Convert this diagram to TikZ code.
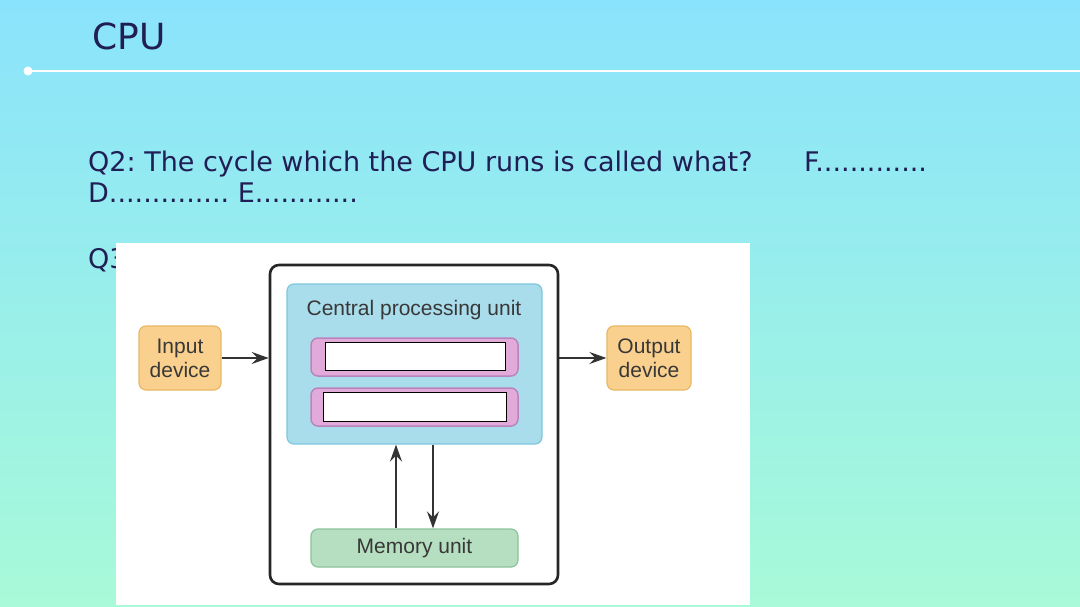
\documentclass[tikz,border=0pt]{standalone}
\usepackage{fontspec}
\setmainfont{DejaVu Sans}
\newfontfamily\figfont{Liberation Sans}
\usetikzlibrary{arrows.meta}
\definecolor{slidetop}{RGB}{138,227,252}
\definecolor{slidebot}{RGB}{168,250,216}
\definecolor{navy}{RGB}{32,30,84}
\definecolor{cpufill}{RGB}{170,221,236}
\definecolor{cpuline}{RGB}{125,198,220}
\definecolor{regfill}{RGB}{226,170,216}
\definecolor{regline}{RGB}{184,132,190}
\definecolor{iofill}{RGB}{249,208,142}
\definecolor{ioline}{RGB}{232,184,100}
\definecolor{memfill}{RGB}{182,222,192}
\definecolor{memline}{RGB}{140,196,154}
\tikzset{
		>={Stealth[length=17pt,width=12pt,inset=6pt]},
		slide/.style={font=\fontsize{27}{31}\selectfont, text=navy, anchor=base west, inner sep=0},
		box/.style={rounded corners=7pt, inner sep=0, font=\figfont\fontsize{21}{24}\selectfont, text=black!78, align=center},
		iobox/.style={box, draw=ioline, fill=iofill, line width=1.2pt, minimum width=82pt, minimum height=64pt},
		regbox/.style={box, draw=regline, fill=regfill, line width=1.5pt, minimum width=207pt, minimum height=38pt},
		blank/.style={draw=black, fill=white, line width=0.8pt, inner sep=0},
		link/.style={->, draw=black!80, line width=2.2pt}
	}
\begin{document}
\frenchspacing
\begin{tikzpicture}[x=1pt, y=-1pt] % one unit = one pixel of the slide
		\useasboundingbox (0,0) rectangle (1080,607);
		\shade[top color=slidetop, bottom color=slidebot] (0,0) rectangle (1080,607);
		% title and rule
		\node[font=\fontsize{36}{40}\selectfont, text=navy, anchor=base west, inner sep=0] (title) at (92,50) {CPU};
		\coordinate (ruleA) at (28,71);
		\coordinate (ruleB) at (1080,71);
		\draw[white, line width=2pt] (ruleA) -- (ruleB);
		\fill[white] (ruleA) circle (4.5);
		% question text
		\node[slide] (q2) at (88,172) {Q2: The cycle which the CPU runs is called what?};
		\node[slide] (fetch) at (804,172) {F.............};
		\node[slide] (de) at (88,203) {D.............. E............};
		\node[slide] (q3) at (88,269) {Q3};
		% pasted figure
		\fill[white] (116,243) rectangle (750,605);
		\node[draw=black!85, line width=2.6pt, rounded corners=9pt, minimum width=288pt, minimum height=319pt, inner sep=0] (outer) at (414,424.5) {};
		\node[box, draw=cpuline, fill=cpufill, line width=1.2pt, minimum width=255pt, minimum height=160pt] (cpu) at (414.5,364) {};
		\node[box] (cpulabel) at (414,310) {Central processing unit};
		\node[regbox] (reg1) at (414.5,357) {};
		\node[regbox] (reg2) at (414.5,407) {};
		\node[blank, minimum width=180pt, minimum height=28pt] (blank1) at (415,356) {};
		\node[blank, minimum width=183pt, minimum height=29pt] (blank2) at (414.5,406.5) {};
		\node[iobox] (input) at (180,358) {Input\\device};
		\node[iobox, minimum width=84pt] (output) at (649,358) {Output\\device};
		\node[box, draw=memline, fill=memfill, line width=1.2pt, minimum width=207pt, minimum height=38pt] (mem) at (414.5,548) {\raisebox{-2pt}{Memory unit}};
		% connectors
		\draw[link] (input.east) -- (outer.west |- input.east);
		\draw[link] (outer.east |- output.west) -- (output.west);
		\draw[link] (mem.north -| 396,0) -- (cpu.south -| 396,0);
		\draw[link] (cpu.south -| 433,0) -- (mem.north -| 433,0);
	\end{tikzpicture}
\end{document}
